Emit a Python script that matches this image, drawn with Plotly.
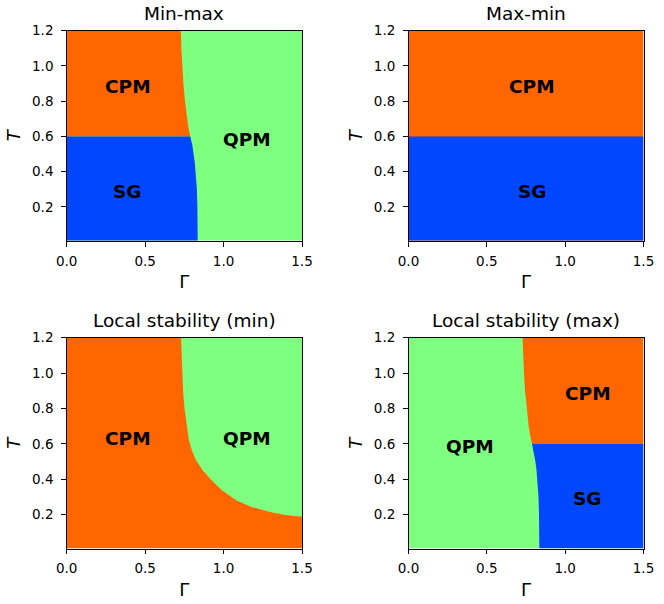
import plotly.graph_objects as go

# colours of the phases
c_cpm = "#FF6600"
c_sg = "#0047FF"
c_qpm = "#7FFF7F"

# axis extent
g_min, g_max = 0.0, 1.5
t_min, t_max = 0.01, 1.2
t_split = 0.6

# boundary CPM | QPM (upper part)
cq_T = [1.2, 1.1, 1.0, 0.9, 0.8, 0.7, 0.65, 0.6]
cq_G = [0.728, 0.731, 0.737, 0.744, 0.754, 0.767, 0.776, 0.788]
# boundary SG | QPM (lower part)
sq_T = [0.6, 0.55, 0.5, 0.45, 0.4, 0.35, 0.3, 0.2, 0.1, 0.01]
sq_G = [0.788, 0.801, 0.810, 0.817, 0.821, 0.825, 0.830, 0.833, 0.834, 0.835]

# boundary CPM | QPM for local stability (min)
lm_T = [1.2, 1.1, 1.0, 0.9, 0.8, 0.734, 0.677, 0.620, 0.564, 0.507, 0.451,
        0.394, 0.338, 0.281, 0.243, 0.215, 0.196, 0.187]
lm_G = [0.729, 0.732, 0.736, 0.742, 0.751, 0.760, 0.767, 0.779, 0.798, 0.824, 0.867,
        0.924, 0.990, 1.080, 1.179, 1.296, 1.402, 1.5]

titles = ["Min-max", "Max-min", "Local stability (min)", "Local stability (max)"]

# phase labels: (panel, text, Gamma, T)
labels = [
    (0, "CPM", 0.39, 0.885), (0, "QPM", 1.15, 0.585), (0, "SG", 0.39, 0.285),
    (1, "CPM", 0.79, 0.885), (1, "SG", 0.79, 0.285),
    (2, "CPM", 0.39, 0.632), (2, "QPM", 1.15, 0.632),
    (3, "CPM", 1.145, 0.887), (3, "QPM", 0.39, 0.587), (3, "SG", 1.145, 0.293),
]

W, H = 664, 604
xdom = [[66.7 / W, 302 / W], [408.5 / W, 643.5 / W]]
ydom = [[1 - 241 / H, 1 - 30.7 / H], [1 - 548.7 / H, 1 - 337.7 / H]]

fig = go.Figure()


def poly(i, xs, ys, col):
    ax = "" if i == 0 else str(i + 1)
    fig.add_trace(go.Scatter(x=xs, y=ys, fill="toself", fillcolor=col, mode="lines",
                             line=dict(width=0, color=col),
                             hoverinfo="skip", showlegend=False,
                             xaxis="x" + ax, yaxis="y" + ax))


full_x = [g_min, g_max, g_max, g_min]
full_y = [t_min, t_min, t_max, t_max]

# Min-max
poly(0, full_x, full_y, c_qpm)
poly(0, [g_min] + cq_G + [g_min], [t_max] + cq_T + [t_split], c_cpm)
poly(0, [g_min] + sq_G + [g_min], [t_split] + sq_T + [t_min], c_sg)

# Max-min
poly(1, full_x, full_y, c_cpm)
poly(1, [g_min, g_max, g_max, g_min], [t_min, t_min, t_split, t_split], c_sg)

# Local stability (min)
poly(2, full_x, full_y, c_cpm)
poly(2, lm_G + [g_max], lm_T + [t_max], c_qpm)

# Local stability (max)
poly(3, full_x, full_y, c_qpm)
poly(3, cq_G + [g_max, g_max], cq_T + [t_split, t_max], c_cpm)
poly(3, sq_G + [g_max, g_max], sq_T + [t_min, t_split], c_sg)

font = "DejaVu Sans"
layout = dict(width=W, height=H, margin=dict(l=0, r=0, t=0, b=0),
              plot_bgcolor="white", paper_bgcolor="white",
              font=dict(family=font, color="black", size=13.5))
annotations = []
for i in range(4):
    r, c = divmod(i, 2)
    ax = "" if i == 0 else str(i + 1)
    layout["xaxis" + ax] = dict(
        domain=xdom[c], range=[g_min, g_max], anchor="y" + ax, automargin=False,
        tickvals=[0.0, 0.5, 1.0, 1.5], ticktext=["0.0", "0.5", "1.0", "1.5"],
        ticks="outside", ticklen=4.5, tickwidth=1, tickcolor="black",
        showline=True, linecolor="black", linewidth=1, mirror=True,
        showgrid=False, zeroline=False, ticklabelstandoff=3,
        title=dict(text="Γ", font=dict(size=18), standoff=7))
    layout["yaxis" + ax] = dict(
        domain=ydom[r], range=[t_min - 0.003, t_max], anchor="x" + ax, automargin=False,
        tickvals=[0.2, 0.4, 0.6, 0.8, 1.0, 1.2],
        ticktext=["0.2", "0.4", "0.6", "0.8", "1.0", "1.2"],
        ticks="outside", ticklen=4.5, tickwidth=1, tickcolor="black",
        showline=True, linecolor="black", linewidth=1, mirror=True,
        showgrid=False, zeroline=False, ticklabelstandoff=5,
        title=dict(text="<i>T</i>", font=dict(size=18), standoff=6))
    annotations.append(dict(text=titles[i], xref="paper", yref="paper",
                            x=sum(xdom[c]) / 2, y=ydom[r][1] + 4.5 / H,
                            xanchor="center", yanchor="bottom", showarrow=False,
                            font=dict(size=18.5)))

for i, txt, gx, ty in labels:
    ax = "" if i == 0 else str(i + 1)
    annotations.append(dict(text="<b>%s</b>" % txt, x=gx, y=ty, xref="x" + ax, yref="y" + ax,
                            showarrow=False, font=dict(size=18.5)))

layout["annotations"] = annotations
fig.update_layout(**layout)
# drop the default 8px body margin so the figure fills the window
fig.write_html("out.html", config={"displayModeBar": False},
               post_script="document.body.style.margin = '0';")
